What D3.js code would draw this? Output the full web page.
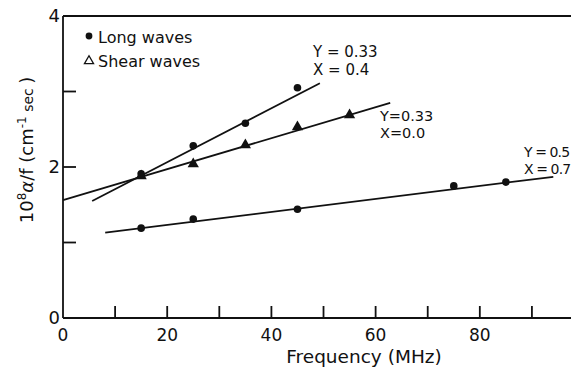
<!DOCTYPE html>
<html>
<head>
<meta charset="utf-8">
<script src="https://cdn.jsdelivr.net/npm/d3@7"></script>
<style>
  body { margin: 0; background: #fff; }
  svg text { font-family: "DejaVu Sans", sans-serif; fill: #111; }
</style>
</head>
<body>
<div id="chart"></div>
<script>
// data
let longFreq = [15, 25, 35, 45];
let longUpper = [1.91, 2.28, 2.58, 3.05];
let longLowFreq = [15, 25, 45, 75, 85];
let longLower = [1.19, 1.31, 1.44, 1.75, 1.80];
let shearFreq = [15, 25, 35, 45, 55];
let shearVals = [1.88, 2.04, 2.29, 2.53, 2.69];

// fitted lines: [freq, value] at each end
let fitUpper = [[5.6, 1.55], [49.3, 3.11]];
let fitShear = [[0, 1.56], [62.8, 2.85]];
let fitLower = [[8.1, 1.13], [94.1, 1.87]];

let labelUpper = ["Y = 0.33", "X = 0.4"];
let labelShear = ["Y=0.33", "X=0.0"];
let labelLower = ["Y = 0.5", "X = 0.7"];

let xTicks = [0, 10, 20, 30, 40, 50, 60, 70, 80, 90];
let xTickLabels = [0, 20, 40, 60, 80];
let yTicks = [1, 2, 3, 4];
let yTickLabels = [0, 2, 4];

let width = 571, height = 367;
let margin = ({top: 16, right: 0, bottom: 49, left: 63});

let svg = d3.select("#chart").append("svg")
  .attr("width", width)
  .attr("height", height);

let x = d3.scaleLinear().domain([0, 97.5]).range([margin.left, width - margin.right]);
let y = d3.scaleLinear().domain([0, 4]).range([height - margin.bottom, margin.top]);

////////////////////
//   Frame / axes
////////////////////
let frame = svg.append("g").attr("stroke", "#111").attr("stroke-width", 1.8).attr("fill", "none");
frame.append("line").attr("x1", x(0)).attr("x2", x(0)).attr("y1", y(0)).attr("y2", y(4));
frame.append("line").attr("x1", x(0)).attr("x2", width).attr("y1", y(0)).attr("y2", y(0));
frame.append("line").attr("x1", x(0)).attr("x2", width).attr("y1", y(4)).attr("y2", y(4));

frame.selectAll(".xt").data(xTicks.filter(d => d > 0)).enter().append("line")
  .attr("x1", d => x(d)).attr("x2", d => x(d))
  .attr("y1", y(0)).attr("y2", y(0) - 12);
frame.selectAll(".yt").data(yTicks).enter().append("line")
  .attr("x1", x(0)).attr("x2", x(0) + 13)
  .attr("y1", d => y(d)).attr("y2", d => y(d));

svg.selectAll(".xl").data(xTickLabels).enter().append("text")
  .attr("x", d => x(d)).attr("y", y(0) + 23)
  .attr("text-anchor", "middle").attr("font-size", "17px")
  .text(d => d);
svg.selectAll(".yl").data(yTickLabels).enter().append("text")
  .attr("x", x(0) - 3).attr("y", d => y(d) + 6)
  .attr("text-anchor", "end").attr("font-size", "18px")
  .text(d => d);

////////////////////
//   Axis labels
////////////////////
svg.append("text")
  .attr("x", 364).attr("y", 363)
  .attr("text-anchor", "middle").attr("font-size", "18.5px")
  .text("Frequency (MHz)");

let yl = svg.append("text")
  .attr("transform", "translate(33,150) rotate(-90)")
  .attr("text-anchor", "middle").attr("font-size", "18px");
yl.append("tspan").text("10");
yl.append("tspan").attr("dy", -7).attr("font-size", "12px").text("8");
yl.append("tspan").attr("dy", 7).attr("font-style", "italic").text("α");
yl.append("tspan").text("/f  (cm");
yl.append("tspan").attr("dy", -7).attr("font-size", "12px").text("-1");
yl.append("tspan").attr("dy", 7).attr("font-size", "14px").text(" sec ");
yl.append("tspan").text(")");

////////////////////
//   Fit lines
////////////////////
let line = d3.line().x(d => x(d[0])).y(d => y(d[1]));
[fitUpper, fitShear, fitLower].forEach(function(f) {
  svg.append("path").attr("d", line(f))
    .attr("fill", "none").attr("stroke", "#111").attr("stroke-width", 1.8);
});

////////////////////
//   Points
////////////////////
let circles = longFreq.map((f, i) => [f, longUpper[i]])
  .concat(longLowFreq.map((f, i) => [f, longLower[i]]));
svg.selectAll(".pt").data(circles).enter().append("circle")
  .attr("cx", d => x(d[0])).attr("cy", d => y(d[1]))
  .attr("r", 3.8).attr("fill", "#111");

let tri = d3.symbol().type(d3.symbolTriangle).size(55);
svg.selectAll(".tr").data(shearFreq.map((f, i) => [f, shearVals[i]])).enter().append("path")
  .attr("d", tri)
  .attr("transform", d => "translate(" + x(d[0]) + "," + y(d[1]) + ")")
  .attr("fill", "#111");

////////////////////
//   Annotations
////////////////////
function twoLine(lines, px, py, gap, size, spacing) {
  lines.forEach(function(t, i) {
    svg.append("text").attr("x", px).attr("y", py + i * gap)
      .attr("font-size", size + "px")
      .attr("letter-spacing", spacing)
      .text(t);
  });
}
twoLine(labelUpper, 313, 57, 18, 15, 0);
twoLine(labelShear, 380, 121, 17, 14.5, 0);
twoLine(labelLower, 524, 157, 17, 14, -0.9);

////////////////////
//   Legend
////////////////////
svg.append("circle").attr("cx", 89).attr("cy", 36).attr("r", 3.4).attr("fill", "#111");
svg.append("text").attr("x", 98).attr("y", 43).attr("font-size", "16px").text("Long waves");
svg.append("path").attr("d", d3.symbol().type(d3.symbolTriangle).size(36))
  .attr("transform", "translate(89,61)")
  .attr("fill", "none").attr("stroke", "#111").attr("stroke-width", 1.3);
svg.append("text").attr("x", 98).attr("y", 67).attr("font-size", "16px").text("Shear waves");
</script>
</body>
</html>
